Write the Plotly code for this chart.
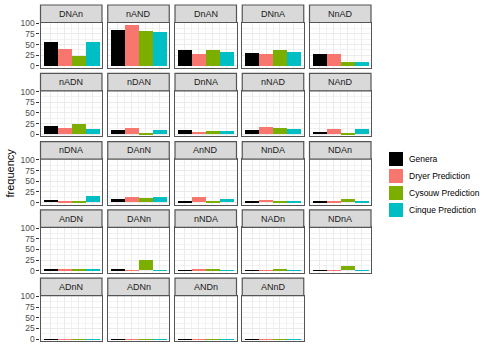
import plotly.graph_objects as go

facets = ["DNAn", "nAND", "DnAN", "DNnA", "NnAD",
          "nADN", "nDAN", "DnNA", "nNAD", "NAnD",
          "nDNA", "DAnN", "AnND", "NnDA", "NDAn",
          "AnDN", "DANn", "nNDA", "NADn", "NDnA",
          "ADnN", "ADNn", "ANDn", "ANnD"]

series_names = ["Genera", "Dryer Prediction", "Cysouw Prediction", "Cinque Prediction"]
series_colors = ["#000000", "#F8766D", "#7CAE00", "#00BFC4"]

genera = [57, 85, 38, 31, 28,
          20, 11, 11, 10, 5,
          5, 8, 3, 4, 4,
          4, 3, 1, 0.5, 0.5,
          0.5, 0.5, 0.5, 0.5]
dryer = [41, 97, 28, 28, 28,
         16, 16, 6, 17, 12,
         2, 12, 12, 5, 1.5,
         3, 1, 3, 0.5, 0.5,
         0.5, 0.5, 0.5, 0.5]
cysouw = [24, 83, 38, 38, 11,
          24, 4, 7, 15, 3,
          4, 11, 3, 2, 7,
          4, 25, 4, 1.5, 11,
          0.5, 1, 1, 0.5]
cinque = [57, 80, 35, 35, 11,
          12, 11, 7, 12, 13,
          14, 12, 9, 1.5, 1.5,
          3, 1, 1, 1, 1,
          0.5, 0.5, 0.5, 0.5]
series_values = [genera, dryer, cysouw, cinque]

y_ticks = [0, 25, 50, 75, 100]

FONT = "Liberation Sans, Arial, sans-serif"
W, H = 490, 350
ncol = 5
col_left = 40.5
col_step = 67.25
panel_w = 61.5
row_top = 5.0
row_step = 68.3
strip_h = 17.5
panel_h = 45.5

fig = go.Figure()
layout = dict(shapes=[], annotations=[])

for i, name in enumerate(facets):
    r, c = divmod(i, ncol)
    k = i + 1
    xa = "x" if k == 1 else f"x{k}"
    ya = "y" if k == 1 else f"y{k}"
    xkey = "xaxis" if k == 1 else f"xaxis{k}"
    ykey = "yaxis" if k == 1 else f"yaxis{k}"
    x0 = col_left + c * col_step
    x1 = x0 + panel_w
    st = row_top + r * row_step
    pt = st + strip_h
    pb = pt + panel_h

    for s in range(4):
        fig.add_trace(go.Bar(
            x=[s + 1], y=[series_values[s][i]], width=1,
            marker=dict(color=series_colors[s], line=dict(width=0)),
            name=series_names[s], legendgroup=series_names[s],
            showlegend=False, xaxis=xa, yaxis=ya,
            hovertemplate=name + "<br>" + series_names[s] + ": %{y}<extra></extra>"))

    layout[xkey] = dict(
        domain=[x0 / W, x1 / W], anchor=ya, range=[0.3, 4.7],
        tickvals=[1, 2, 3, 4], showticklabels=False, ticks="",
        showgrid=True, gridcolor="#EBEBEB", gridwidth=1, zeroline=False,
        minor=dict(tickvals=[1.5, 2.5, 3.5], showgrid=True, gridcolor="#F2F2F2", gridwidth=0.6),
        showline=True, mirror=True, linecolor="#555555", linewidth=1.2,
        automargin=False, fixedrange=True)
    layout[ykey] = dict(
        domain=[1 - pb / H, 1 - pt / H], anchor=xa, range=[-4.85, 101.85],
        tickvals=y_ticks, showticklabels=(c == 0),
        ticks="outside" if c == 0 else "", ticklen=3, tickcolor="#333333", tickwidth=1,
        tickfont=dict(size=8.5, color="#4D4D4D", family=FONT),
        showgrid=True, gridcolor="#EBEBEB", gridwidth=1, zeroline=False,
        minor=dict(tickvals=[12.5, 37.5, 62.5, 87.5], showgrid=True, gridcolor="#F2F2F2", gridwidth=0.6),
        showline=True, mirror=True, linecolor="#555555", linewidth=1.2,
        automargin=False, fixedrange=True)

    layout["shapes"].append(dict(
        type="rect", xref="paper", yref="paper",
        x0=x0 / W, x1=x1 / W, y0=1 - pt / H, y1=1 - st / H,
        fillcolor="#D9D9D9", line=dict(color="#555555", width=1.2), layer="above"))
    layout["annotations"].append(dict(
        text=name, xref="paper", yref="paper",
        x=(x0 + x1) / 2 / W, y=1 - (st + pt) / 2 / H,
        xanchor="center", yanchor="middle", showarrow=False,
        font=dict(size=9, color="#1A1A1A", family=FONT)))

# legend (drawn as keys + labels)
key_left, key_size, key_top, key_step = 388.5, 15, 151.5, 17
for s in range(4):
    ky = key_top + s * key_step
    layout["shapes"].append(dict(
        type="rect", xref="paper", yref="paper",
        x0=key_left / W, x1=(key_left + key_size) / W,
        y0=1 - (ky + key_size) / H, y1=1 - ky / H,
        fillcolor=series_colors[s], line=dict(color="white", width=1)))
    layout["annotations"].append(dict(
        text=series_names[s], xref="paper", yref="paper",
        x=(key_left + key_size + 3) / W, y=1 - (ky + key_size / 2) / H,
        xanchor="left", yanchor="middle", showarrow=False,
        font=dict(size=8.5, color="#000000", family=FONT)))

layout["annotations"].append(dict(
    text="frequency", xref="paper", yref="paper", x=9 / W, y=1 - 173.5 / H,
    xanchor="center", yanchor="middle", textangle=-90, showarrow=False,
    font=dict(size=11, color="#000000", family=FONT)))

fig.update_layout(
    **layout,
    width=W, height=H,
    margin=dict(l=0, r=0, t=0, b=0, pad=0, autoexpand=False),
    barmode="overlay", bargap=0, showlegend=False,
    plot_bgcolor="white", paper_bgcolor="white",
)

fig.write_html(
    "out.html",
    config={"displayModeBar": False},
    post_script="document.body.style.margin='0';document.body.style.overflow='hidden';",
)
